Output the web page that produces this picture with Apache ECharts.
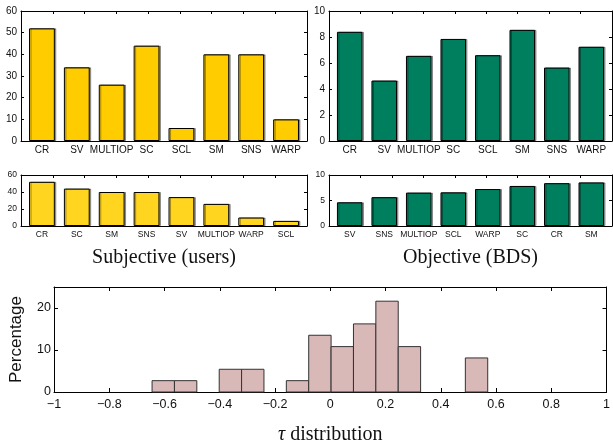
<!DOCTYPE html>
<html><head><meta charset="utf-8">
<script src="https://cdn.jsdelivr.net/npm/echarts@6/dist/echarts.min.js"></script>
<style>html,body{margin:0;padding:0;background:#fff}#c{width:613px;height:446px}</style>
</head><body><div id="c"></div>
<script>
// ---- data ----
const categories = ['CR', 'SV', 'MULTIOP', 'SC', 'SCL', 'SM', 'SNS', 'WARP'];
const subjectiveValues = [52, 34, 26, 44, 6, 40, 40, 10];
const objectiveValues = [8.4, 4.65, 6.55, 7.85, 6.6, 8.55, 5.65, 7.25];
const subjectiveSortedCats = ['CR', 'SC', 'SM', 'SNS', 'SV', 'MULTIOP', 'WARP', 'SCL'];
const subjectiveSortedValues = [52, 44, 40, 40, 34, 26, 10, 6];
const objectiveSortedCats = ['SV', 'SNS', 'MULTIOP', 'SCL', 'WARP', 'SC', 'CR', 'SM'];
const objectiveSortedValues = [4.65, 5.65, 6.55, 6.6, 7.25, 7.85, 8.4, 8.55];
const tauBinStart = [-0.645, -0.564, -0.402, -0.321, -0.159, -0.078, 0.003, 0.084, 0.165, 0.246, 0.489];
const tauBinWidth = 0.081;
const tauPercent = [2.70, 2.70, 5.41, 5.41, 2.70, 13.51, 10.81, 16.22, 21.62, 10.81, 8.11];
const subjectiveTitle = 'Subjective (users)';
const objectiveTitle = 'Objective (BDS)';

// ---- chart ----
const SANS = 'Liberation Sans, Arial, sans-serif';
const SERIF = 'Liberation Serif, Times New Roman, serif';
const positions = [1, 2, 3, 4, 5, 6, 7, 8];

const grids = [
  {left: 21, top: 11, width: 286, height: 130},
  {left: 329, top: 11, width: 283, height: 130},
  {left: 21, top: 175, width: 286, height: 51},
  {left: 329, top: 175, width: 283, height: 51},
  {left: 52, top: 287, width: 559, height: 108}
];
const xAxes = [], yAxes = [], series = [];
const line = {show: true, onZero: false, lineStyle: {color: '#000', width: 1}};
const tick = len => ({show: true, inside: true, length: len, lineStyle: {color: '#000'}});

function barPanel(g, cats, vals, yMax, yInt, fs, color, title) {
  const xi = xAxes.length, yi = yAxes.length;
  xAxes.push({
    type: 'value', gridIndex: g, min: 0.4, max: 8.6, position: 'bottom',
    axisLine: line, axisTick: {show: false}, splitLine: {show: false},
    axisLabel: {customValues: positions, formatter: v => cats[Math.round(v) - 1],
      fontSize: fs, fontFamily: SANS, color: '#111', margin: 4},
    name: title || '', nameLocation: 'middle', nameGap: 22,
    nameTextStyle: {fontFamily: SERIF, fontSize: 20, color: '#111'}
  });
  xAxes.push({
    type: 'value', gridIndex: g, min: 0, max: 9, interval: 1, position: 'top',
    axisLine: line, axisTick: tick(3),
    axisLabel: {show: false}, splitLine: {show: false}
  });
  yAxes.push({
    type: 'value', gridIndex: g, min: 0, max: yMax, interval: yInt, position: 'left',
    axisLine: line, axisTick: tick(3),
    axisLabel: {fontSize: fs, fontFamily: SANS, color: '#111', margin: 4},
    splitLine: {show: false}
  });
  yAxes.push({
    type: 'value', gridIndex: g, min: 0, max: yMax, interval: yInt, position: 'right',
    axisLine: line, axisTick: tick(3),
    axisLabel: {show: false}, splitLine: {show: false}
  });
  series.push({
    type: 'bar', xAxisIndex: xi, yAxisIndex: yi, barWidth: '74%',
    data: vals.map((v, i) => [positions[i], v]),
    itemStyle: {color: color, borderColor: '#000', borderWidth: 1,
      shadowColor: 'rgba(0,0,0,0.35)', shadowOffsetX: 1.5, shadowOffsetY: 0, shadowBlur: 0},
    silent: true, animation: false
  });
}

barPanel(0, categories, subjectiveValues, 60, 10, 10, '#FFCC00');
barPanel(1, categories, objectiveValues, 10, 2, 10, '#007F5F');
barPanel(2, subjectiveSortedCats, subjectiveSortedValues, 60, 20, 8.5, '#FFD520', subjectiveTitle);
barPanel(3, objectiveSortedCats, objectiveSortedValues, 10, 5, 8.5, '#007F5F', objectiveTitle);

// histogram panel
const minusFmt = v => {
  const a = +Math.abs(v).toFixed(2);
  return (v < -1e-9 ? '\u2212' : '') + a;
};
const hx = xAxes.length, hy = yAxes.length;
xAxes.push({
  type: 'value', gridIndex: 4, min: -1, max: 1, interval: 0.2, position: 'bottom',
  axisLine: line, axisTick: tick(4),
  axisLabel: {formatter: minusFmt, fontSize: 12.5, fontFamily: SANS, color: '#111', margin: 6},
  splitLine: {show: false},
  name: '{i|\u03c4} distribution', nameLocation: 'middle', nameGap: 33,
  nameTextStyle: {fontFamily: SERIF, fontSize: 20, color: '#111',
    rich: {i: {fontFamily: SERIF, fontSize: 20, fontStyle: 'italic', color: '#111'}}}
});
xAxes.push({
  type: 'value', gridIndex: 4, min: -1, max: 1, interval: 0.2, position: 'top',
  axisLine: line, axisTick: tick(4),
  axisLabel: {show: false}, splitLine: {show: false}
});
yAxes.push({
  type: 'value', gridIndex: 4, min: 0, max: 25, interval: 10, position: 'left',
  axisLine: line, axisTick: tick(4),
  axisLabel: {fontSize: 12.5, fontFamily: SANS, color: '#111', margin: 3, showMaxLabel: false},
  splitLine: {show: false},
  name: 'Percentage', nameLocation: 'middle', nameGap: 29,
  nameTextStyle: {fontFamily: SANS, fontSize: 17, color: '#111'}
});
yAxes.push({
  type: 'value', gridIndex: 4, min: 0, max: 25, interval: 10, position: 'right',
  axisLine: line, axisTick: tick(4),
  axisLabel: {show: false}, splitLine: {show: false}
});
series.push({
  type: 'custom', xAxisIndex: hx, yAxisIndex: hy, silent: true, animation: false,
  data: tauBinStart.map((s, i) => [s, s + tauBinWidth, tauPercent[i]]),
  encode: {x: [0, 1], y: 2},
  renderItem: (params, api) => {
    const p0 = api.coord([api.value(0), api.value(2)]);
    const p1 = api.coord([api.value(1), 0]);
    return {type: 'rect',
      shape: {x: p0[0], y: p0[1], width: p1[0] - p0[0], height: p1[1] - p0[1]},
      style: {fill: '#D9B8B8', stroke: '#333', lineWidth: 1}};
  }
});

const chart = echarts.init(document.getElementById('c'), null, {renderer: 'canvas'});
chart.setOption({
  animation: false, backgroundColor: '#fff',
  grid: grids, xAxis: xAxes, yAxis: yAxes, series: series
});
</script></body></html>
